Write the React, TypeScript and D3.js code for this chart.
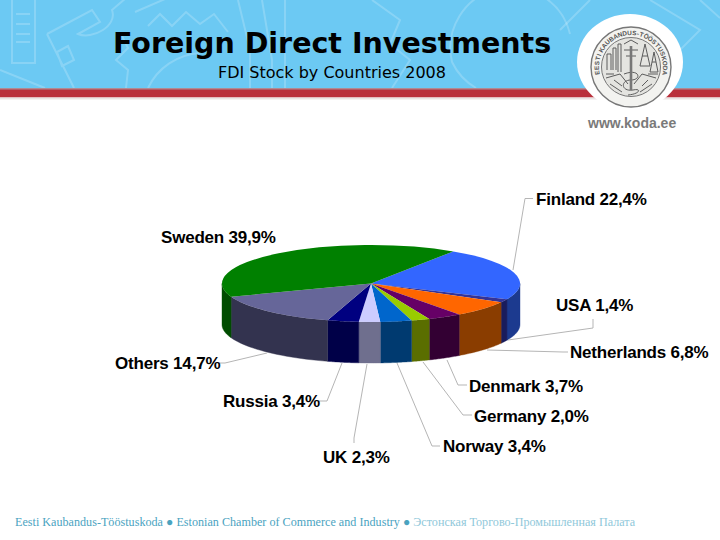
import { arc, pie, path as d3path, scaleLinear } from "d3";

const countries = ["Finland", "USA", "Netherlands", "Denmark", "Germany", "Norway", "UK", "Russia", "Others", "Sweden"];
const shares = [22.4, 1.4, 6.8, 3.7, 2.0, 3.4, 2.3, 3.4, 14.7, 39.9];
const topColors = ["#3366ff", "#333399", "#ff6600", "#660066", "#99cc00", "#0066cc", "#ccccff", "#000080", "#666699", "#008000"];
const sideColors = ["#1c3a8f", "#191c5c", "#8a3d00", "#330033", "#5a6e00", "#003a70", "#6f6f8e", "#000048", "#33334f", "#004c00"];
const sealLabel = "EESTI KAUBANDUS-TÖÖSTUSKODA";

const width = 720;
const height = 540;
const cx = 371;
const cy = 283.5;
const rx = 149;
const ry = 38.5;
const depth = 41;
const startAngle = (33.5 * Math.PI) / 180;

// label anchor, then the leader line from the label back to the pie
const labelLayout: Record<string, { x: number; y: number; leader?: [number, number][] }> = {
  Finland: { x: 536, y: 205, leader: [[533, 198.5], [525, 198.5], [513, 270]] },
  USA: { x: 556, y: 311, leader: [[593, 319], [593, 328], [508, 340]] },
  Netherlands: { x: 570, y: 358, leader: [[568, 352], [563, 352], [487, 350]] },
  Denmark: { x: 469, y: 392, leader: [[467, 385], [458, 385], [447, 360]] },
  Germany: { x: 474, y: 422, leader: [[472, 415], [463, 415], [423, 362]] },
  Norway: { x: 443, y: 452, leader: [[440, 446], [432, 446], [397, 363]] },
  UK: { x: 323, y: 463, leader: [[354, 443], [354, 438], [367, 364]] },
  Russia: { x: 223, y: 407, leader: [[318, 401], [327, 401], [342, 363]] },
  Others: { x: 115, y: 369, leader: [[218, 363], [225, 363], [267, 353]] },
  Sweden: { x: 161, y: 243 },
};

const watermark = [
  "M12 0V63H35V0M16 14H30M16 24H30M16 34H30M16 42H30",
  "M47 34L92 10L100 22L78 34C92 40 118 26 112 10L126 -2M57 52L68 46L74 60L62 66ZM47 34L74 88",
  "M135 12L172 -4M145 -2L175 -12",
  "M148 26L160 14L172 26L186 12L200 24L214 14L228 32",
  "M126 88L128 70L116 60L128 48L122 36",
  "M148 88A62 62 0 0 1 200 53",
  "M238 0L250 50V88M262 0L272 60V88M285 0V88",
  "M372 0L400 20L390 44L410 60L392 88",
  "M452 62A60 60 0 0 1 570 34M452 62A60 60 0 0 0 476 88",
  "M590 0L560 30M650 0L700 30L680 50L640 20M700 0L720 18",
  "M0 70L30 82L45 88",
];

const sealStrokes = [
  "M607 70V54H611V70M613 70V48H616V70M618 72V44H621V72",
  "M624 50H638M626 56H636M624 44L631 40L638 44",
  "M640 66L645 44L650 66ZM650 72L654 52L658 72ZM642 56H648M652 62H656",
  "M606 78L620 74L628 84M656 78L642 74L634 84",
  "M624 74C640 68 642 80 631 80C620 80 621 92 633 90C642 88 640 94 628 95",
  "M610 84L622 92M652 84L640 92M606 74H614M648 74H658M614 80L622 86M648 80L642 86",
];

// narrow glyphs get less of the seal's arc
const sealAdvance = (ch: string) => (ch === "I" || ch === " " ? 0.45 : ch === "-" ? 0.5 : 1);

export default function App() {
  const slices = pie<number>()
    .sort(null)
    .startAngle(startAngle)
    .endAngle(startAngle + Math.PI * 2)(shares);
  const sliceArc = arc<any>().innerRadius(0).outerRadius(rx);
  const yScale = ry / rx;

  const sealChars = sealLabel.split("");
  const sealTotal = sealChars.reduce((sum, ch) => sum + sealAdvance(ch), 0);
  const sealAngle = scaleLinear().domain([0, sealTotal]).range([-104, 104]);
  let sealCursor = 0;
  const sealGlyphs = sealChars.map((ch) => {
    const at = sealCursor + sealAdvance(ch) / 2;
    sealCursor += sealAdvance(ch);
    return { ch, angle: sealAngle(at) };
  });

  // d3 angles run clockwise from 12 o'clock; only the front half of the rim shows
  const rimPoint = (a: number, dy: number): [number, number] => [
    cx + rx * Math.sin(a),
    cy - ry * Math.cos(a) + dy,
  ];
  const wallPath = (a0: number, a1: number) => {
    const segments: [number, number][] = [
      [Math.max(a0, Math.PI / 2), Math.min(a1, (3 * Math.PI) / 2)],
      [Math.max(a0, Math.PI / 2 + Math.PI * 2), Math.min(a1, (3 * Math.PI) / 2 + Math.PI * 2)],
    ];
    const seg = segments.find(([s, e]) => e > s);
    if (!seg) return null;
    const p = d3path();
    const [s, e] = seg;
    const start = rimPoint(s, 0);
    p.moveTo(start[0], start[1]);
    const steps = 24;
    for (let i = 1; i <= steps; i++) {
      const pt = rimPoint(s + ((e - s) * i) / steps, 0);
      p.lineTo(pt[0], pt[1]);
    }
    for (let i = steps; i >= 0; i--) {
      const pt = rimPoint(s + ((e - s) * i) / steps, depth);
      p.lineTo(pt[0], pt[1]);
    }
    p.closePath();
    return p.toString();
  };

  return (
    <svg
      width={width}
      height={height}
      viewBox={`0 0 ${width} ${height}`}
      style={{ position: "fixed", left: 0, top: 0, background: "#fff" }}
    >
      {/* header band */}
      <rect x={0} y={0} width={width} height={89} fill="#6cc9f3" />
      <g fill="none" stroke="#ffffff" strokeOpacity={0.2} strokeWidth={2}>
        {watermark.map((d) => (
          <path key={d} d={d} />
        ))}
      </g>
      <rect x={0} y={88} width={width} height={2} fill="#b08a92" />
      <rect x={0} y={89.5} width={width} height={8} fill="#b92f3b" />
      <rect x={0} y={97.5} width={width} height={2} fill="#e9e3e3" />

      {/* seal */}
      <ellipse cx={630} cy={62} rx={53} ry={48} fill="#fff" />
      <circle cx={631} cy={67} r={40} fill="#f3f3f0" stroke="#777" strokeWidth={1.4} />
      <circle cx={631} cy={67} r={29.5} fill="#e4e4e0" stroke="#777" strokeWidth={1} />
      <g fontFamily="Liberation Sans" fontSize={6.4} fontWeight={700} fill="#555" textAnchor="middle">
        {sealGlyphs.map((g, i) => (
          <text key={i} x={631} y={67 - 32} transform={`rotate(${g.angle} 631 67)`}>
            {g.ch}
          </text>
        ))}
      </g>
      <g fill="none" stroke="#5c5c5c" strokeWidth={1}>
        {sealStrokes.map((d) => (
          <path key={d} d={d} />
        ))}
        <path d="M631 46V90" strokeWidth={2.6} stroke="#777" />
      </g>
      <text x={588} y={128} fontFamily="Liberation Sans" fontSize={14} fontWeight={700} fill="#7a7a7a">
        www.koda.ee
      </text>

      {/* titles */}
      <text x={113} y={53} fontFamily="DejaVu Sans" fontSize={28.5} fontWeight={700} fill="#000">
        Foreign Direct Investments
      </text>
      <text x={218} y={78} fontFamily="DejaVu Sans" fontSize={16} fill="#000">
        FDI Stock by Countries 2008
      </text>

      {/* pie walls, then the top face */}
      <g>
        {slices.map((s, i) => {
          const d = wallPath(s.startAngle, s.endAngle);
          return d ? <path key={countries[i]} d={d} fill={sideColors[i]} stroke={sideColors[i]} strokeWidth={0.4} /> : null;
        })}
      </g>
      <g transform={`translate(${cx},${cy}) scale(1,${yScale})`}>
        {slices.map((s, i) => (
          <path key={countries[i]} d={sliceArc(s) ?? ""} fill={topColors[i]} />
        ))}
      </g>

      {/* leaders and labels */}
      <g fill="none" stroke="#b5b5b5" strokeWidth={1}>
        {countries.map((c) =>
          labelLayout[c].leader ? (
            <polyline key={c} points={labelLayout[c].leader!.map((p) => p.join(",")).join(" ")} />
          ) : null
        )}
      </g>
      <g fontFamily="Liberation Sans" fontSize={17} fontWeight={700} fill="#000" letterSpacing={-0.2}>
        {countries.map((c, i) => (
          <text key={c} x={labelLayout[c].x} y={labelLayout[c].y}>
            {`${c} ${shares[i].toFixed(1).replace(".", ",")}%`}
          </text>
        ))}
      </g>

      {/* footer */}
      <text x={15} y={526} fontFamily="Liberation Serif" fontSize={12.1} fill="#4aa3bf" letterSpacing={0.02}>
        Eesti Kaubandus-Tööstuskoda ● Estonian Chamber of Commerce and Industry ● <tspan fill="#8fc8da">Эстонская Торгово-Промышленная Палата</tspan>
      </text>
    </svg>
  );
}
